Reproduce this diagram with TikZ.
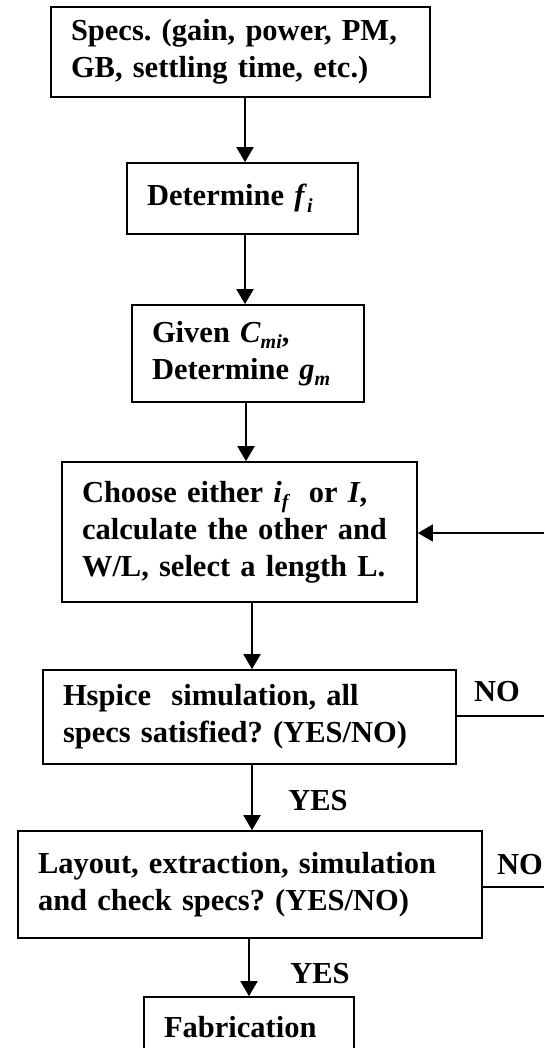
\documentclass[tikz,border=0pt]{standalone}
\usepackage{fontspec}
\setmainfont{Liberation Serif}
\usetikzlibrary{arrows.meta}
\newcommand\sbs[1]{\raisebox{-0.2em}{\fontsize{20}{20}\selectfont\itshape #1}}
\frenchspacing
\begin{document}
\begin{tikzpicture}[x=1pt,y=-1pt,
  box/.style={draw, line width=1.7pt, inner xsep=20pt, inner ysep=0pt, align=left,
    font=\fontsize{30.5}{37}\selectfont\bfseries\frenchspacing, anchor=center},
  lbl/.style={font=\fontsize{30.5}{37}\selectfont\bfseries, inner sep=0pt},
  arr/.style={line width=1.9pt, -{Triangle[length=15pt,width=17pt]}},
  fb/.style={line width=1.3pt}]
\useasboundingbox (0,0) rectangle (544,1048);
\node[box, minimum width=379pt, minimum height=90pt, text width=339pt] (b1) at (240.5,52)
  {Specs. (gain, power, PM,\\GB, settling time, etc.)};
\node[box, minimum width=231pt, minimum height=71pt, text width=191pt] (b2) at (242.5,198.5)
  {Determine \textit{f}\sbs{i}};
\node[box, minimum width=232pt, minimum height=97pt, text width=192pt] (b3) at (248,353.5)
  {Given \textit{C}\sbs{mi},\\Determine \textit{g}\sbs{m}};
\node[box, minimum width=355pt, minimum height=140pt, text width=315pt] (b4) at (239.5,532)
  {Choose either \textit{i}\sbs{f}\ \ or \textit{I},\\calculate the other and\\W/L, select a length L.};
\node[box, minimum width=413pt, minimum height=94pt, text width=373pt] (b5) at (249.5,717)
  {Hspice\ \ simulation, all\\specs satisfied? (YES/NO)};
\node[box, minimum width=464pt, minimum height=107pt, text width=424pt] (b6) at (250,884.5)
  {Layout, extraction, simulation\\and check specs? (YES/NO)};
\node[box, minimum width=210pt, minimum height=60pt, text width=170pt] (b7) at (249,1027)
  {Fabrication};
% arrow x positions
\coordinate (a1) at (245,0);
\coordinate (a2) at (245,0);
\coordinate (a3) at (246,0);
\coordinate (a4) at (252,0);
\coordinate (a5) at (252,0);
\coordinate (a6) at (249,0);
\draw[arr] (b1.south -| a1) -- (b2.north -| a1);
\draw[arr] (b2.south -| a2) -- (b3.north -| a2);
\draw[arr] (b3.south -| a3) -- (b4.north -| a3);
\draw[arr] (b4.south -| a4) -- (b5.north -| a4);
\draw[arr] (b5.south -| a5) -- (b6.north -| a5);
\draw[arr] (b6.south -| a6) -- (b7.north -| a6);
% feedback
\coordinate (r4) at (544,533);
\coordinate (r5) at (544,716);
\coordinate (r6) at (544,887);
\draw[arr, line width=1.5pt] (r4) -- (r4 -| b4.east);
\draw[fb] (r5 -| b5.east) -- (r5);
\draw[fb] (r6 -| b6.east) -- (r6);
% labels
\node[lbl] (no1) at (497,692) {NO};
\node[lbl] (no2) at (520,865) {NO};
\node[lbl] (yes1) at (318,801) {YES};
\node[lbl] (yes2) at (320,974) {YES};
\end{tikzpicture}
\end{document}
